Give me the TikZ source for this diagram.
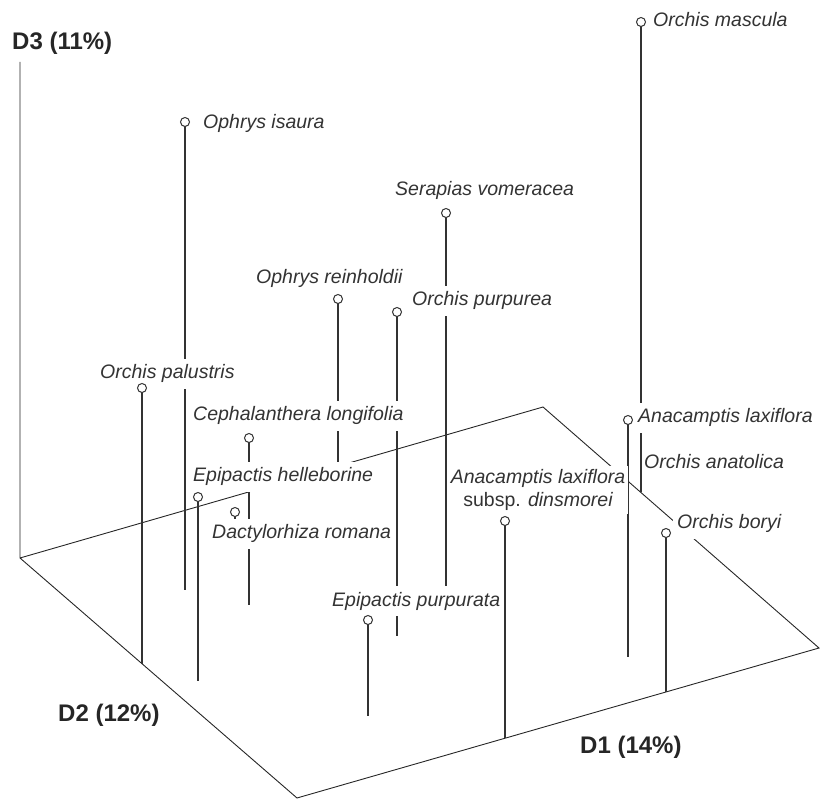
\documentclass[tikz,border=0pt]{standalone}
\usepackage{fontspec}
\setmainfont{Liberation Sans}
\begin{document}
\begin{tikzpicture}[x=1pt,y=-1pt,
  axis/.style={line width=0.9pt, draw=black!85},
  stem/.style={line width=1.2pt, draw=black!80},
  dot/.style={circle, draw=black!80, line width=1pt, fill=white, minimum size=9pt, inner sep=0pt},
  lab/.style={anchor=west, fill=white, inner xsep=4pt, inner ysep=6pt, text height=14pt, text depth=4pt, font=\fontsize{19.5}{23}\selectfont\itshape, text=black!80},
  axlab/.style={anchor=west, inner sep=0pt, font=\fontsize{24}{26}\selectfont\bfseries, text=black!85}]
\useasboundingbox (0,0) rectangle (820,799);
% axes / floor
\coordinate (O) at (20,558);
\coordinate (Z) at (20,62);
\coordinate (Y) at (297,798);
\coordinate (X) at (819,648);
\coordinate (B) at (543,407);
\draw[axis] (Z) -- (O) -- (Y) -- (X) -- (B) -- (O);
% points and floor feet
\coordinate (c1) at (641,22);   \coordinate (f1) at (641,492);
\coordinate (c2) at (185,122);  \coordinate (f2) at (185,590);
\coordinate (c3) at (446,213);  \coordinate (f3) at (446,595);
\coordinate (c4) at (338,299);  \coordinate (f4) at (338,466);
\coordinate (c5) at (397,312);  \coordinate (f5) at (397,636);
\coordinate (c6) at (142,388);  \coordinate (f6) at (142,664);
\coordinate (c7) at (249,438);  \coordinate (f7) at (249,605);
\coordinate (c8) at (198,497);  \coordinate (f8) at (198,681);
\coordinate (c9) at (235,512);  \coordinate (f9) at (235,525);
\coordinate (c10) at (368,620); \coordinate (f10) at (368,716);
\coordinate (c11) at (505,521); \coordinate (f11) at (505,738);
\coordinate (c12) at (628,420); \coordinate (f12) at (628,657);
\coordinate (c13) at (666,533); \coordinate (f13) at (666,692);
\foreach \i in {1,...,13} {\draw[stem] (c\i) -- (f\i);}
% labels
\node[lab] (l1) at (649,22) {Orchis mascula};
\node[lab] (l2) at (199,124) {Ophrys isaura};
\node[lab] (l3) at (391,191) {Serapias vomeracea};
\node[lab] (l4) at (252,279) {Ophrys reinholdii};
\node[lab] (l5) at (408,301) {Orchis purpurea};
\node[lab] (l6) at (96,374) {Orchis palustris};
\node[lab] (l7) at (189,416) {Cephalanthera longifolia};
\node[lab] (l8) at (634,418) {Anacamptis laxiflora};
\node[lab, inner xsep=1pt] (l9) at (643,464) {Orchis anatolica};
\node[lab] (l10) at (189,477) {Epipactis helleborine};
\node[lab, anchor=center, align=center, text height=, text depth=, inner xsep=3pt, inner ysep=3pt] (l11) at (538,490) {Anacamptis laxiflora\\\upshape subsp. \itshape dinsmorei};
\node[lab] (l12) at (673,524) {Orchis boryi};
\node[lab] (l13) at (208,534) {Dactylorhiza romana};
\node[lab] (l14) at (328,601) {Epipactis purpurata};
% circles
\foreach \i in {1,2,3,4,5,6,7,8,9,10,11,12,13} {\node[dot] (d\i) at (c\i) {};}
% axis labels
\node[axlab] (a3) at (12,43) {D3 (11\%)};
\node[axlab] (a2) at (58,715) {D2 (12\%)};
\node[axlab] (a1) at (580,747) {D1 (14\%)};
\end{tikzpicture}
\end{document}
